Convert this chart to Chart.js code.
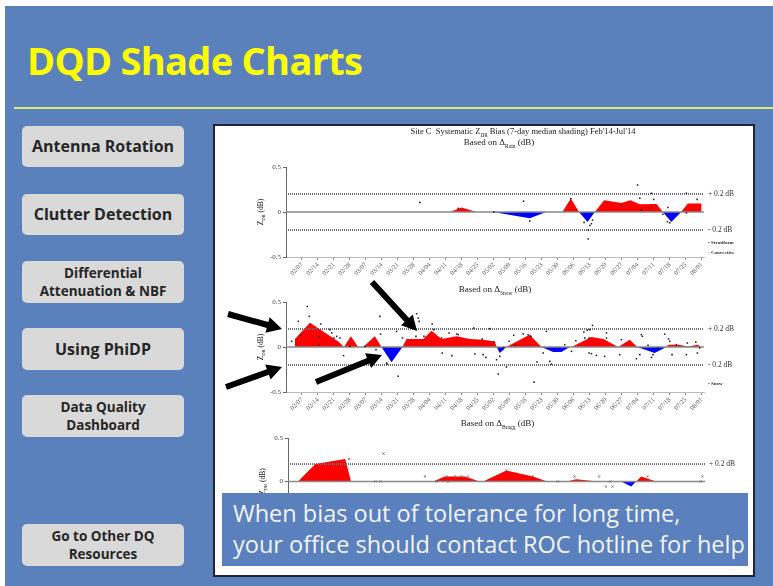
<!DOCTYPE html>
<html>
<head>
<meta charset="utf-8">
<title>DQD Shade Charts</title>
<script src="https://cdn.jsdelivr.net/npm/chart.js@4.4.1/dist/chart.umd.min.js"></script>
<style>
  html, body { margin: 0; padding: 0; }
  body { width: 773px; height: 586px; position: relative; overflow: hidden; background: #fff; font-family: "Open Sans", sans-serif; }
  #slide { position: absolute; left: 5px; top: 6px; width: 768px; height: 580px; background: #5b81bc; }
  #heading { position: absolute; left: 27px; top: 41px; margin: 0; font-size: 38px; line-height: 1; font-weight: 700; letter-spacing: -0.7px; color: #ffff00; }
  #rule { position: absolute; left: 14px; top: 107px; width: 759px; height: 2px; background: #dbe87a; }
  .btn { position: absolute; left: 22px; width: 162px; height: 41px; border-radius: 5px; background: #d9d9d9; color: #262626; font-weight: 700; font-size: 16px; display: flex; align-items: center; justify-content: center; text-align: center; line-height: 1.15; }
  .btn.small { font-size: 13.5px; line-height: 18px; height: 42px; }
  #panel { position: absolute; left: 213px; top: 124px; width: 538px; height: 449px; background: #fff; border: 2px solid #1d2535; }
  canvas { position: absolute; }
  #note { position: absolute; left: 222px; top: 493px; width: 526px; height: 73px; background: #5a80bd; color: #f4f4f4; font-size: 23.5px; line-height: 31px; padding: 5px 0 0 11px; box-sizing: border-box; white-space: nowrap; }
  #arrows { position: absolute; left: 0; top: 0; }
</style>
</head>
<body>
<div id="slide"></div>
<h1 id="heading">DQD Shade Charts</h1>
<div id="rule"></div>
<div class="btn" style="top:126px">Antenna Rotation</div>
<div class="btn" style="top:194px">Clutter Detection</div>
<div class="btn small" style="top:261px">Differential<br>Attenuation &amp; NBF</div>
<div class="btn" style="top:328px;height:42px">Using PhiDP</div>
<div class="btn small" style="top:395px">Data Quality<br>Dashboard</div>
<div class="btn small" style="top:524px">Go to Other DQ<br>Resources</div>
<div id="panel"></div>
<canvas id="rainChart" width="538" height="154" style="left:215px;top:126px"></canvas>
<canvas id="snowChart" width="538" height="138" style="left:215px;top:280px"></canvas>
<canvas id="braggChart" width="538" height="157" style="left:215px;top:418px"></canvas>
<div id="note">When bias out of tolerance for long time,<br>your office should contact ROC hotline for help</div>
<svg id="arrows" width="773" height="586"></svg>
<script>
// days counted from 02/07/2014
const tickLabels = ['02/07','02/14','02/21','02/28','03/07','03/14','03/21','03/28','04/04','04/11','04/18','04/25','05/02','05/09','05/16','05/23','05/30','06/06','06/13','06/20','06/27','07/04','07/11','07/18','07/25','08/01'];
const tickDays = [0,7,14,21,28,35,42,49,56,63,70,77,84,91,98,105,112,119,126,133,140,147,154,161,168,175];
const yTicks = [-0.5, 0, 0.5];
const thresholds = [0.2, -0.2];
const dayRange = [-7, 176];

// 7-day median bias [day, dB]
const rainMedian = [[64.7,0],[69.9,0.05],[76.4,0],[83.6,0],[99.7,-0.07],[107,0],[114,0],[117.7,0.15],[121.3,0],[125,-0.11],[128.2,0],[132.3,0.13],[139.8,0.10],[143.8,0.13],[147.9,0.085],[155.2,0.09],[158,0],[161.7,-0.11],[166,0],[168.9,0.095],[175,0.095],[175,0]];
const snowMedian = [[-3.1,0],[-3.1,0.09],[3.5,0.27],[15.9,0.06],[18.4,0],[21.4,0.12],[24.6,0],[26.8,0],[31.9,0.12],[34.8,0],[39.2,-0.17],[44,0],[45.8,0.09],[53.1,0.09],[56.7,0.18],[61.1,0.09],[67.7,0.12],[73.5,0.09],[79.3,0.08],[84.4,0.06],[85.2,0],[86.6,-0.067],[89.5,0],[91.7,0.03],[99.7,0.137],[104.8,0],[110,-0.056],[113.6,-0.056],[117.2,0],[118,0],[126.7,0.11],[132,0.09],[138.4,0],[143.5,0.08],[146.8,0],[154.4,-0.067],[159.5,0],[160.5,0.026],[165,0.026],[169,0.005],[173.2,0.026],[175,0]];
const braggMedian = [[-2.6,0],[5,0.2],[18.1,0.258],[20.7,0],[56.7,0],[61.8,0.058],[70.6,0.058],[77.1,0],[78.6,0],[88.8,0.127],[100.5,0.058],[106.8,0],[115.2,0],[119.5,0.027],[129,0],[139.2,0],[143.6,-0.058],[145.8,0],[148,0.058],[154.6,0],[175,0]];

// daily values [day, dB]
const rainPoints = [[51.6,0.107],[68.4,0.04],[84,0],[97,0.12],[99.7,-0.10],[117.7,0.148],[123.5,-0.115],[125.3,-0.2],[125.3,-0.30],[127.2,-0.09],[126.7,-0.13],[126,-0.15],[139.8,0.078],[146.9,0.30],[147.9,0.152],[148.6,0.022],[152.5,0.048],[153,0.208],[154,0.14],[158,-0.026],[160.2,0.05],[160,-0.108],[161,-0.12],[168.3,0.208],[168.3,-0.01],[173,0.14]];
const snowPoints = [[-4.5,0.063],[-1.6,0.285],[2.3,0.45],[3.2,0.34],[-0.6,0.137],[7.6,0.115],[8.2,0.256],[7.6,0.026],[12.2,0.193],[13,0.156],[14,0.1],[15.2,0.118],[16.6,0.1],[18.2,-0.096],[21,0.007],[27.6,0.007],[34.1,0.34],[34.4,0.144],[32.4,-0.03],[37,-0.178],[37.3,-0.189],[41.4,0.174],[42.1,-0.326],[44,0.1],[50.2,0.37],[50.9,0.322],[51.3,0.285],[49.9,0.118],[53.4,0.118],[57,0.256],[57.7,0.193],[61.1,0.1],[61.4,-0.067],[64.4,0.156],[65.6,-0.096],[67.7,0.144],[68.4,0.137],[75.2,0.211],[75.7,-0.078],[78.9,0.089],[79.3,-0.085],[80.5,-0.115],[82.2,0.204],[84,0.056],[85.2,-0.141],[85.9,-0.3],[86.6,-0.104],[88.1,-0.011],[89.5,-0.222],[90.7,0.063],[92.7,0.13],[93.2,0.026],[96.8,0.144],[99,0.137],[100.2,0.118],[101.6,-0.39],[105.6,-0.067],[107,0.174],[108.5,-0.16],[109.2,-0.19],[102.9,-0.167],[115,0.026],[118,-0.048],[119.9,0.07],[123.4,0.167],[124.9,0.185],[126,0.193],[127.2,0.24],[123.8,0.1],[125.7,0.1],[125.7,-0.067],[126.7,-0.074],[128.9,-0.093],[132.5,-0.104],[133.3,0.156],[133.3,0.1],[139.8,0.081],[139.1,-0.085],[146.4,-0.13],[147.9,-0.085],[148.6,0.137],[149,0.118],[151.5,0.019],[153,-0.115],[153.7,-0.085],[155.9,-0.011],[158.8,0.144],[160.5,0.089],[161,0.063],[162,-0.085],[163.9,0.026],[168.3,-0.085],[168.7,0.044],[172.4,0.056],[173.1,-0.067],[174.1,-0.011]];
const braggPoints = [[19.8,0.26],[34.9,0.32],[31.4,0],[33.6,0],[53.1,0.058],[58.2,0],[63.3,0],[62.6,0.058],[66.2,0.058],[69.1,0.058],[72,0.058],[88.8,0.127],[100.5,0.058],[111.4,0],[118.7,0.058],[129.6,0.058],[132.5,-0.058],[135.4,-0.058],[134.5,0],[150.8,0.058],[174.8,0.058],[174.1,0]];

const xy = pairs => pairs.map(([x, y]) => ({x, y}));

function drawParts(ctx, parts, x, y, size, center) {
    const fontFor = sub => (sub ? size * 0.62 : size) + 'px "Liberation Serif"';
    let w = 0;
    parts.forEach(([t, sub]) => { ctx.font = fontFor(sub); w += ctx.measureText(t).width; });
    let cx = center ? x - w / 2 : x;
    ctx.textAlign = 'left';
    parts.forEach(([t, sub]) => {
        ctx.font = fontFor(sub);
        ctx.fillText(t, cx, sub ? y + size * 0.4 : y);
        cx += ctx.measureText(t).width;
    });
}

const annotate = {
    id: 'annotate',
    afterDraw(chart, args, o) {
        const ctx = chart.ctx;
        const a = chart.chartArea;
        const y = chart.scales.y;
        ctx.save();
        ctx.fillStyle = '#222';
        ctx.textBaseline = 'middle';
        o.titles.forEach(t => drawParts(ctx, t.parts, (a.left + a.right) / 2 + t.dx, t.y, t.size, true));

        ctx.save();
        ctx.translate(a.left - 25, (a.top + a.bottom) / 2);
        ctx.rotate(-Math.PI / 2);
        drawParts(ctx, [['Z', 0], ['DR', 1], [' (dB)', 0]], 0, 0, 7.5, true);
        ctx.restore();

        ctx.fillStyle = '#333';
        thresholds.forEach(v => {
            drawParts(ctx, [[(v > 0 ? '+ ' : '- ') + Math.abs(v) + ' dB', 0]], a.right + 4, y.getPixelForValue(v), 7.5, false);
        });
        ctx.font = 'bold 5px "Liberation Serif"';
        o.legend.forEach(l => ctx.fillText(l.text, a.right + 4, a.bottom + l.dy));
        ctx.restore();
    }
};

function shadeChart(id, s) {
    const datasets = [
        {
            data: xy(s.points), showLine: false, order: 0,
            pointStyle: s.pointStyle, pointRadius: s.pointRadius, borderWidth: s.pointBorder,
            borderColor: s.pointColor, backgroundColor: s.pointColor
        },
        {
            data: xy([[dayRange[0], 0], [dayRange[1], 0]]), order: 1,
            borderColor: '#8a8a8a', borderWidth: 1.5, pointRadius: 0
        },
        ...thresholds.map(v => ({
            data: xy([[dayRange[0], v], [dayRange[1], v]]), order: 2,
            borderColor: '#6e6e6e', borderWidth: 2, borderDash: [1, 1], pointRadius: 0
        })),
        {
            data: xy(s.median), order: 3,
            borderColor: 'rgba(0,0,0,0)', pointRadius: 0,
            fill: {target: 'origin', above: '#ff0000', below: '#0000ff'}
        }
    ];
    return new Chart(document.getElementById(id), {
        type: 'line',
        data: {datasets},
        options: {
            responsive: false,
            animation: false,
            events: [],
            layout: {padding: s.padding},
            plugins: {
                legend: {display: false},
                tooltip: {enabled: false},
                annotate: {titles: s.titles, legend: s.legend}
            },
            scales: {
                x: {
                    type: 'linear', min: dayRange[0], max: dayRange[1],
                    afterBuildTicks: sc => { sc.ticks = tickDays.map(value => ({value})); },
                    afterFit: sc => { sc.height = s.xHeight; },
                    ticks: {
                        autoSkip: false, minRotation: 45, maxRotation: 45, padding: 1,
                        color: '#555', font: {family: 'Liberation Serif', size: 6.5},
                        callback: (v, i) => tickLabels[i]
                    },
                    grid: {drawOnChartArea: false, tickLength: 3, color: '#888'},
                    border: {color: '#bbb'}
                },
                y: {
                    min: -0.5, max: 0.5,
                    afterBuildTicks: sc => { sc.ticks = yTicks.map(value => ({value})); },
                    afterFit: sc => { sc.width = s.yWidth; },
                    ticks: {
                        padding: 2, color: '#444', font: {family: 'Liberation Serif', size: 7},
                        callback: v => String(v)
                    },
                    grid: {drawOnChartArea: false, tickLength: 3, color: '#666'},
                    border: {color: '#666'}
                }
            }
        },
        plugins: [annotate]
    });
}

shadeChart('rainChart', {
    median: rainMedian, points: rainPoints,
    pointStyle: 'rect', pointRadius: 1.1, pointBorder: 0, pointColor: '#222',
    padding: {top: 41, right: 49, left: 0, bottom: 0}, yWidth: 71, xHeight: 23,
    titles: [
        {parts: [['Site C  Systematic Z', 0], ['DR', 1], [" Bias (7-day median shading) Feb'14-Jul'14", 0]], dx: 28, y: 6, size: 8.5},
        {parts: [['Based on \u0394', 0], ['Rain', 1], [' (dB)', 0]], dx: 4, y: 17, size: 9}
    ],
    legend: [{text: '\u2022 Stratiform', dy: -14}, {text: '\u00b7 Convective', dy: -4}]
});

shadeChart('snowChart', {
    median: snowMedian, points: snowPoints,
    pointStyle: 'rect', pointRadius: 1.1, pointBorder: 0, pointColor: '#222',
    padding: {top: 22, right: 49, left: 0, bottom: 0}, yWidth: 71, xHeight: 26,
    titles: [{parts: [['Based on \u0394', 0], ['Snow', 1], [' (dB)', 0]], dx: 0, y: 10, size: 9}],
    legend: [{text: '\u2022 Snow', dy: -8}]
});

shadeChart('braggChart', {
    median: braggMedian, points: braggPoints,
    pointStyle: 'crossRot', pointRadius: 1.5, pointBorder: 0.8, pointColor: '#666',
    padding: {top: 20, right: 48, left: 0, bottom: 0}, yWidth: 73, xHeight: 50,
    titles: [{parts: [['Based on \u0394', 0], ['Bragg', 1], [' (dB)', 0]], dx: 1, y: 6, size: 9}],
    legend: []
});

// call-out arrows over the snow panel: [tailX, tailY, tipX, tipY]
const arrows = [[228, 314, 282, 329], [226, 387, 282, 367], [372, 282, 417, 331], [316, 382, 382, 355]];
const svg = document.getElementById('arrows');
arrows.forEach(([tx, ty, px, py]) => {
    const len = Math.hypot(px - tx, py - ty);
    const ux = (px - tx) / len, uy = (py - ty) / len;
    const nx = -uy, ny = ux;
    const w = 3, h = 8, L = 15;
    const bx = px - ux * L, by = py - uy * L;
    const pts = [
        [tx + nx * w, ty + ny * w], [bx + nx * w, by + ny * w], [bx + nx * h, by + ny * h],
        [px, py],
        [bx - nx * h, by - ny * h], [bx - nx * w, by - ny * w], [tx - nx * w, ty - ny * w]
    ];
    const poly = document.createElementNS('http://www.w3.org/2000/svg', 'polygon');
    poly.setAttribute('points', pts.map(p => p.join(',')).join(' '));
    poly.setAttribute('fill', '#000');
    svg.appendChild(poly);
});
</script>
</body>
</html>
